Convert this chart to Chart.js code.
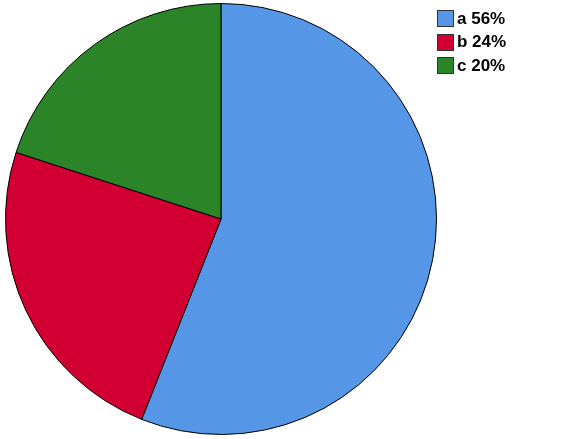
<!DOCTYPE html>
<html>
<head>
<meta charset="utf-8">
<script src="https://cdn.jsdelivr.net/npm/chart.js@4"></script>
<style>
  html,body{margin:0;padding:0;background:#fff;}
  #wrap{position:relative;width:582px;height:439px;}
  #legend{position:absolute;left:437px;top:7px;font-family:"Liberation Sans",Arial,sans-serif;font-weight:bold;font-size:17px;color:#000;}
  .row{display:flex;align-items:center;height:23.5px;}
  .box{width:17px;height:17px;border:1px solid #333;box-sizing:border-box;margin-right:3px;}
</style>
</head>
<body>
<div id="wrap">
  <canvas id="c" width="582" height="439"></canvas>
  <div id="legend"></div>
</div>
<script>
const categories = ["a", "b", "c"];
const values = [56, 24, 20];
const colors = ["#5596e6", "#d20032", "#2b8427"];

const legend = document.getElementById("legend");
categories.forEach((cat, i) => {
  const row = document.createElement("div");
  row.className = "row";
  const box = document.createElement("div");
  box.className = "box";
  box.style.background = colors[i];
  const t = document.createElement("span");
  t.textContent = cat + " " + values[i] + "%";
  row.appendChild(box);
  row.appendChild(t);
  legend.appendChild(row);
});

new Chart(document.getElementById("c"), {
  type: "pie",
  data: {
    labels: categories,
    datasets: [{
      data: values,
      backgroundColor: colors,
      borderColor: "#000",
      borderWidth: 1
    }]
  },
  options: {
    responsive: false,
    animation: false,
    layout: { padding: { left: 5, top: 3, right: 145, bottom: 4 } },
    plugins: { legend: { display: false }, tooltip: { enabled: false } }
  }
});
</script>
</body>
</html>
